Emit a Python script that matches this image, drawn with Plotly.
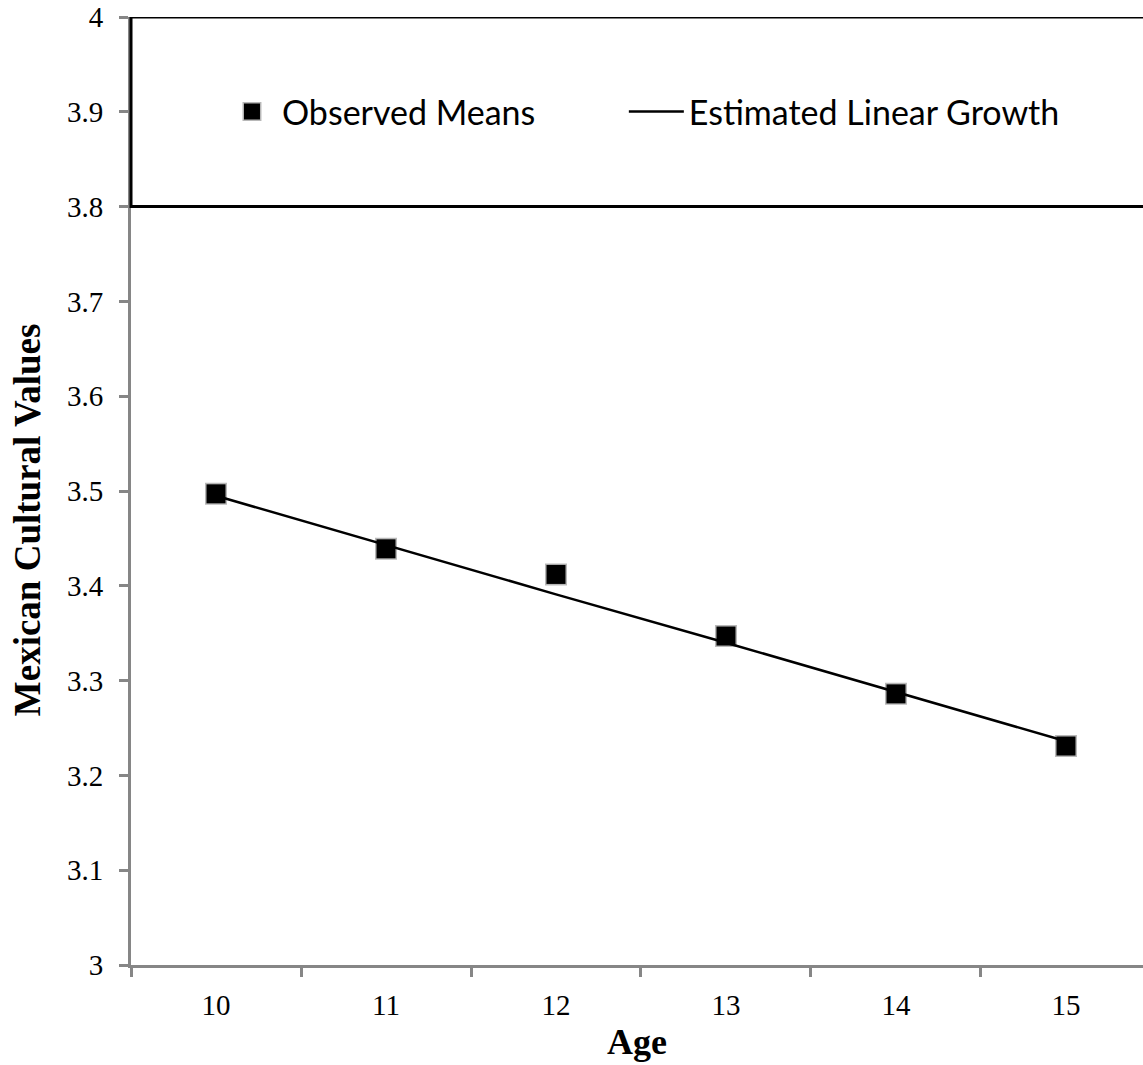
import plotly.graph_objects as go

# Mean Mexican cultural values by age, with the estimated linear growth curve
ages = ["10", "11", "12", "13", "14", "15"]
observed_means = [3.497, 3.439, 3.412, 3.347, 3.286, 3.231]
estimated_growth = [3.495, 3.443, 3.391, 3.340, 3.288, 3.236]

y_ticks = [3.0, 3.1, 3.2, 3.3, 3.4, 3.5, 3.6, 3.7, 3.8, 3.9, 4.0]
y_tick_text = ["3", "3.1", "3.2", "3.3", "3.4", "3.5", "3.6", "3.7", "3.8", "3.9", "4"]

AXIS_GREY = "#868686"
SERIF = "Liberation Serif"
LEGEND_FONT = dict(family="Lato", size=34, color="black")

fig = go.Figure()

fig.add_trace(go.Scatter(
    x=ages, y=estimated_growth, mode="lines",
    name="Estimated Linear Growth", legend="legend2",
    line=dict(color="black", width=2.5),
))

fig.add_trace(go.Scatter(
    x=ages, y=observed_means, mode="markers",
    name="Observed Means", legend="legend",
    marker=dict(symbol="square", size=19, color="black",
                line=dict(color="rgba(0,0,0,0.28)", width=3)),
))

fig.update_layout(
    width=1143, height=1065,
    margin=dict(l=131, r=0, t=17, b=100),
    plot_bgcolor="white", paper_bgcolor="white",
    showlegend=True,
    legend=dict(
        orientation="h",
        x=0.0899, y=0.9, xanchor="left", yanchor="middle",
        itemwidth=50,
        font=LEGEND_FONT,
        bgcolor="rgba(0,0,0,0)",
    ),
    legend2=dict(
        orientation="h",
        x=0.487, y=0.9, xanchor="left", yanchor="middle",
        itemwidth=55,
        font=LEGEND_FONT,
        bgcolor="rgba(0,0,0,0)",
    ),
    xaxis=dict(
        type="category",
        range=[-0.5, 5.453],
        tickson="boundaries",
        ticks="outside", ticklen=9, tickwidth=3, tickcolor=AXIS_GREY,
        showline=True, linecolor=AXIS_GREY, linewidth=3,
        showgrid=False, zeroline=False,
        ticklabelstandoff=12,
        tickfont=dict(family=SERIF, size=29, color="black"),
        title=dict(text="<b>Age</b>", font=dict(family=SERIF, size=36, color="black"),
                   standoff=10),
    ),
    yaxis=dict(
        range=[3.0, 4.0],
        tickvals=y_ticks, ticktext=y_tick_text,
        ticks="outside", ticklen=9, tickwidth=3, tickcolor=AXIS_GREY,
        showline=True, linecolor=AXIS_GREY, linewidth=3,
        showgrid=False, zeroline=False,
        ticklabelstandoff=10,
        tickfont=dict(family=SERIF, size=29, color="black"),
    ),
    shapes=[dict(
        type="rect", xref="paper", yref="y",
        x0=0, x1=1.02, y0=3.8, y1=4.0,
        line=dict(color="black", width=3),
        fillcolor="rgba(0,0,0,0)", layer="above",
    )],
    annotations=[dict(
        text="<b>Mexican Cultural Values</b>",
        xref="paper", yref="paper",
        x=-0.102, y=0.47, xanchor="center", yanchor="middle",
        textangle=-90, showarrow=False,
        font=dict(family=SERIF, size=37, color="black"),
    )],
)

fig.write_html("out.html")
